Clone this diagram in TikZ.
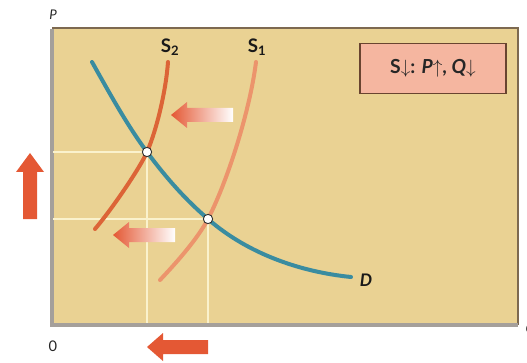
\documentclass[tikz,border=0pt]{standalone}
\usepackage{fontspec}
\setmainfont{Lato}
\usetikzlibrary{positioning,calc}

\definecolor{plotbg}{RGB}{234,210,147}
\definecolor{framecol}{RGB}{125,105,80}
\definecolor{axiscol}{RGB}{165,160,155}
\definecolor{demandcol}{RGB}{58,140,160}
\definecolor{supplytwo}{RGB}{220,100,55}
\definecolor{supplyone}{RGB}{236,148,108}
\definecolor{arrowred}{RGB}{228,88,52}
\definecolor{guidecol}{RGB}{250,242,205}
\definecolor{boxfill}{RGB}{245,182,160}
\definecolor{boxline}{RGB}{105,68,48}

\begin{document}
\begin{tikzpicture}[
    x=0.75pt, y=-0.75pt,
    curve/.style={line width=3pt, line cap=round},
    guide/.style={guidecol, line width=1.1pt},
    eqpoint/.style={circle, draw=black!80, fill=white, line width=0.7pt, inner sep=0pt, minimum size=7pt},
    curvelabel/.style={font=\fontsize{14}{14}\selectfont\bfseries, text=black!90},
    axislabel/.style={font=\fontsize{10}{10}\selectfont\itshape, text=black!85}
]
    \useasboundingbox (0,0) rectangle (527,363);

    % Plot area
    \fill[plotbg] (52,28) rectangle (518,325);
    \draw[framecol, line width=0.9pt] (52,28) -- (518,28) -- (518,325);
    \draw[axiscol, line width=3pt] (52,29) -- (52,325) -- (518,325);

    % Equilibria
    \coordinate (eqtwo) at (147,152);
    \coordinate (eqone) at (208,219);

    % Guide lines
    \draw[guide] (53,152) -- (eqtwo) -- (147,323);
    \draw[guide] (53,219) -- (eqone) -- (208,323);

    % Demand curve
    \draw[curve, demandcol] (92,62) .. controls (110,94) and (127,125) .. (eqtwo)
        .. controls (167,179) and (186,200) .. (eqone)
        .. controls (248,254) and (301,272) .. (351,277);
    % Supply curves
    \draw[curve, supplytwo] (95,229) .. controls (112,209) and (140,168) .. (eqtwo)
        .. controls (157,129) and (166,90) .. (168,62);
    \draw[curve, supplyone] (160,280) .. controls (178,261) and (198,238) .. (eqone)
        .. controls (228,180) and (250,110) .. (256,62);

    \node[eqpoint] (ptwo) at (eqtwo) {};
    \node[eqpoint] (pone) at (eqone) {};

    % Labels
    \node[curvelabel] (stwo) at (170,47) {S\textsubscript{2}};
    \node[curvelabel] (sone) at (257,47) {S\textsubscript{1}};
    \node[curvelabel, font=\fontsize{13}{13}\selectfont\bfseries\itshape] (dlab) at (366,280) {D};
    \node[axislabel] (plab) at (53,15) {P};
    \node[axislabel, font=\fontsize{11}{11}\selectfont] (zero) at (53,346) {0};
    \node[axislabel, anchor=west] (qlab) at (521,330) {Q};

    % Summary box
    \node[draw=boxline, fill=boxfill, line width=0.9pt, minimum width=109.5pt, minimum height=38pt,
          font=\fontsize{14.5}{14.5}\selectfont\bfseries, text=black!85] (summary) at (433,68.5)
          {S$\downarrow$: \textit{P}$\uparrow$, \textit{Q}$\downarrow$};

    % Shift arrows (gradient)
    \shade[left color=arrowred, right color=white]
        (171,115) -- (187,102) -- (187,108) -- (233,108) -- (233,122) -- (187,122) -- (187,128) -- cycle;
    \shade[left color=arrowred, right color=white]
        (113,235) -- (129,222) -- (129,228) -- (175,228) -- (175,242) -- (129,242) -- (129,248) -- cycle;

    % Change in price and quantity
    \fill[arrowred] (30,153) -- (44,172) -- (37,172) -- (37,219) -- (23,219) -- (23,172) -- (16,172) -- cycle;
    \fill[arrowred] (147,347) -- (163,333) -- (163,340) -- (208,340) -- (208,354) -- (163,354) -- (163,361) -- cycle;
\end{tikzpicture}
\end{document}
